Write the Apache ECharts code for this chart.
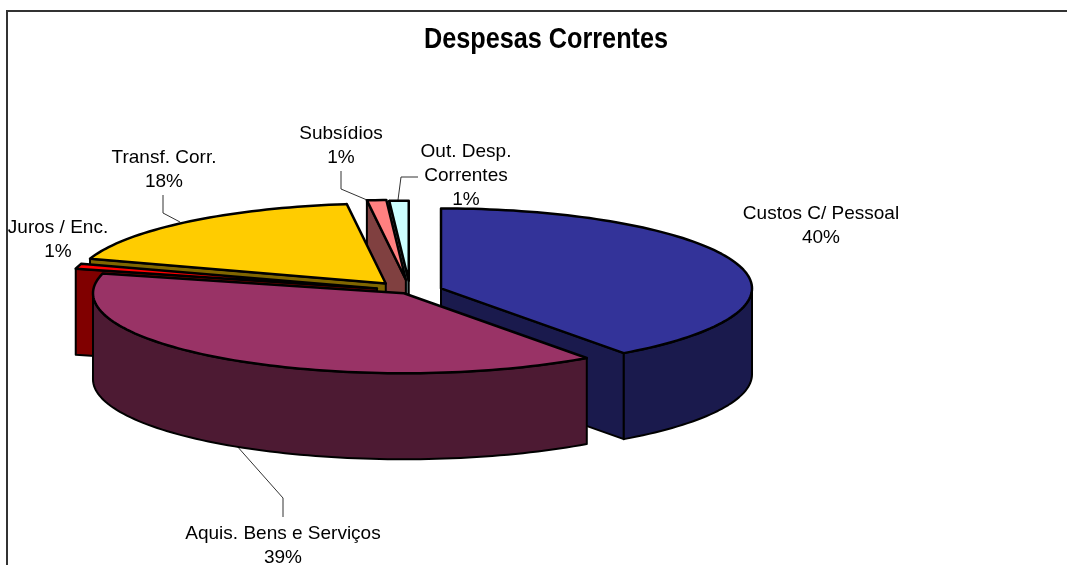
<!DOCTYPE html>
<html>
<head>
<meta charset="utf-8">
<style>html,body{margin:0;padding:0;background:#fff}#chart{width:1067px;height:565px}</style>
<script src="https://cdn.jsdelivr.net/npm/echarts@6/dist/echarts.min.js"></script>
</head>
<body>
<div id="chart"></div>
<script>
// Current expenditure shares, clockwise from twelve o'clock
const categories = ['Custos C/ Pessoal', 'Aquis. Bens e Serviços', 'Juros / Enc.', 'Transf. Corr.', 'Subsídios', 'Out. Desp.\nCorrentes'];
const shares = [40, 39, 1, 18, 1, 1];
const chartTitle = 'Despesas Correntes';

// Slice appearance, index-aligned with the categories
const topColors = ['#333399', '#993366', '#ff0000', '#ffcc00', '#ff8080', '#ccffff'];
const wallColors = ['#1a1a4d', '#4d1a33', '#800000', '#806600', '#804040', '#668080'];
const explode = [32.6, 10.7, 34.4, 38, 44, 40];
// Back-to-front painting sequence
const paintOrder = [5, 4, 3, 0, 2, 1];

// Tilted-disc projection
const PIE = { cx: 410, cy: 291, rx: 311, ry: 80, depth: 86 };

// Label anchors (centre of the text block) and leader polylines
const labelAnchors = [[821, 226], [283, 546], [58, 240], [164, 170], [341, 146], [466, 176]];
const leaders = [
  null,
  [[283, 517], [283, 498], [236, 445]],
  null,
  [[163, 195], [163, 213], [180, 222]],
  [[341, 171], [341, 189], [367, 200]],
  [[418, 177], [401, 177], [398, 200]]
];

const total = shares.reduce((a, b) => a + b, 0);
const arcs = [];
shares.reduce((acc, v) => {
  const a = acc + v / total * 360;
  arcs.push([acc, a]);
  return a;
}, 0);

const rad = d => d * Math.PI / 180;

function sliceGeometry(i) {
  const [a0, a1] = arcs[i];
  const mid = rad((a0 + a1) / 2);
  const ax = PIE.cx + explode[i] * Math.sin(mid);
  const ay = PIE.cy - explode[i] * Math.cos(mid) * PIE.ry / PIE.rx;
  const rim = d => [ax + PIE.rx * Math.sin(rad(d)), ay - PIE.ry * Math.cos(rad(d))];
  return { a0, a1, ax, ay, rim };
}

function shape(points, fill, lineWidth) {
  return {
    type: 'polygon',
    shape: { points },
    style: { fill, stroke: '#000', lineWidth, lineJoin: 'round' }
  };
}

function renderSlice(params) {
  const i = paintOrder[params.dataIndex];
  const { a0, a1, ax, ay, rim } = sliceGeometry(i);
  const drop = p => [p[0], p[1] + PIE.depth];
  const children = [];
  const apex = [ax, ay];

  // Cut faces that turn towards the viewer
  if (a0 > 180 && a0 < 360) {
    const r = rim(a0);
    children.push(shape([apex, r, drop(r), drop(apex)], wallColors[i], 2));
  }
  if (a1 > 0 && a1 < 180) {
    const r = rim(a1);
    children.push(shape([apex, r, drop(r), drop(apex)], wallColors[i], 2));
  }

  // Outer wall along the front half of the disc
  const f0 = Math.max(a0, 90), f1 = Math.min(a1, 270);
  if (f1 > f0) {
    const upper = [];
    for (let d = f0; d < f1; d += 1.5) upper.push(rim(d));
    upper.push(rim(f1));
    const lower = upper.map(drop).reverse();
    children.push(shape(upper.concat(lower), wallColors[i], 2));
  }

  // Top surface
  const top = [apex];
  for (let d = a0; d < a1; d += 1.5) top.push(rim(d));
  top.push(rim(a1));
  children.push(shape(top, topColors[i], 2.5));

  return { type: 'group', children };
}

function renderLabel(params) {
  const i = params.dataIndex;
  const children = [{
    type: 'text',
    x: labelAnchors[i][0],
    y: labelAnchors[i][1],
    style: {
      text: categories[i] + '\n' + Math.round(shares[i] / total * 100) + '%',
      fontFamily: '"Liberation Sans", Arial, sans-serif',
      fontSize: 19,
      lineHeight: 24,
      fill: '#000',
      align: 'center',
      verticalAlign: 'middle'
    }
  }];
  if (leaders[i]) {
    children.push({
      type: 'polyline',
      shape: { points: leaders[i] },
      style: { fill: 'none', stroke: '#333', lineWidth: 1 }
    });
  }
  return { type: 'group', children };
}

const chart = echarts.init(document.getElementById('chart'), null, { renderer: 'canvas' });
chart.setOption({
  animation: false,
  backgroundColor: '#fff',
  graphic: [{
    type: 'polyline',
    silent: true,
    shape: { points: [[7, 565], [7, 11], [1067, 11]] },
    style: { fill: 'none', stroke: '#333', lineWidth: 2 }
  }, {
    // Chart heading, condensed horizontally
    type: 'text',
    silent: true,
    x: 546,
    y: 40,
    scaleX: 0.87,
    style: {
      text: chartTitle,
      fontFamily: '"Liberation Sans", Arial, sans-serif',
      fontSize: 29,
      fontWeight: 'bold',
      fill: '#000',
      align: 'center',
      verticalAlign: 'middle'
    }
  }],
  series: [
    { type: 'custom', coordinateSystem: 'none', z: 1, silent: true, data: shares.map(v => [v]), renderItem: renderLabel },
    { type: 'custom', coordinateSystem: 'none', z: 2, silent: true, data: paintOrder.map(i => [shares[i]]), renderItem: renderSlice }
  ]
});
</script>
</body>
</html>
